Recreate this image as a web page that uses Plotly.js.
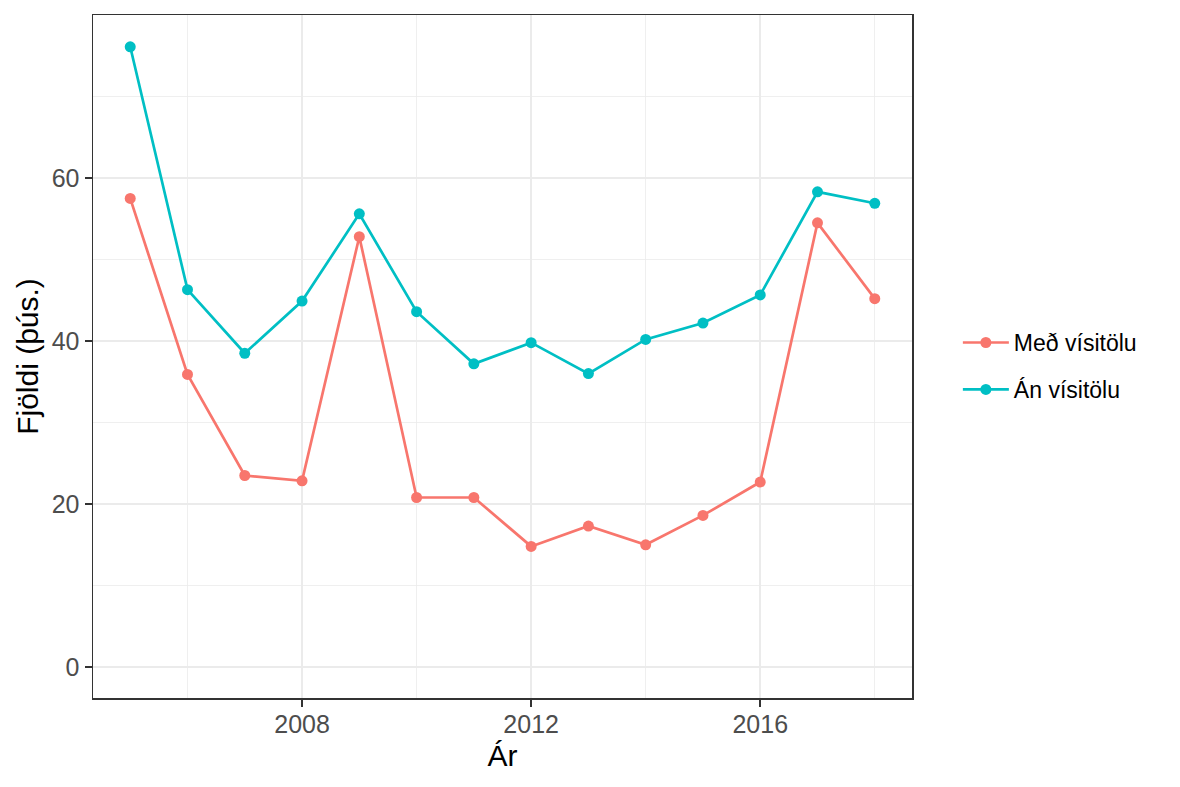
<!DOCTYPE html>
<html>
<head>
<meta charset="utf-8">
<script src="https://cdn.plot.ly/plotly-3.0.1.min.js"></script>
<style>html,body{margin:0;padding:0;background:#fff;}#chart{width:1180px;height:787px;}</style>
</head>
<body>
<div id="chart"></div>
<script>
const years = [2005, 2006, 2007, 2008, 2009, 2010, 2011, 2012, 2013, 2014, 2015, 2016, 2017, 2018];
const medVisitolu = [57.5, 35.9, 23.5, 22.85, 52.8, 20.8, 20.8, 14.8, 17.3, 15.0, 18.6, 22.7, 54.5, 45.2];
const anVisitolu = [76.1, 46.3, 38.5, 44.9, 55.6, 43.6, 37.2, 39.8, 36.0, 40.2, 42.2, 45.65, 58.3, 56.9];
const seriesNames = ["Með vísitölu", "Án vísitölu"];
const seriesColors = ["#F8766D", "#00BFC4"];
const xTickVals = [2008, 2012, 2016];
const yTickVals = [0, 20, 40, 60];
const xTitle = "Ár";
const yTitle = "Fjöldi (þús.)";

const font = "Liberation Sans, Arial, sans-serif";
const traces = [medVisitolu, anVisitolu].map((vals, i) => ({
  type: "scatter",
  mode: "lines+markers",
  x: years,
  y: vals,
  name: seriesNames[i],
  legendgroup: "g" + i,
  line: {color: seriesColors[i], width: 2.7},
  marker: {color: seriesColors[i], size: 11}
}));

const gridCol = "#ebebeb";
const layout = {
  width: 1180,
  height: 787,
  margin: {l: 93, r: 268, t: 15, b: 89},
  paper_bgcolor: "#ffffff",
  plot_bgcolor: "#ffffff",
  font: {family: font, size: 24, color: "#4d4d4d"},
  showlegend: true,
  legend: {
    x: 1.056, xanchor: "left", y: 0.486, yanchor: "middle",
    font: {family: font, size: 23, color: "#000000"},
    traceorder: "grouped", tracegroupgap: 14,
    itemwidth: 46,
    bgcolor: "rgba(0,0,0,0)"
  },
  xaxis: {
    range: [2004.35, 2018.65],
    tickmode: "array", tickvals: xTickVals,
    showgrid: true, gridcolor: gridCol, gridwidth: 1.6,
    minor: {dtick: 2, tick0: 2008, showgrid: true, gridcolor: gridCol, gridwidth: 0.8},
    zeroline: false,
    showline: true, mirror: true, linecolor: "#333333", linewidth: 1.5,
    ticks: "outside", ticklen: 7, tickwidth: 1.5, tickcolor: "#333333",
    ticklabelstandoff: -4,
    tickfont: {family: font, size: 25, color: "#4d4d4d"},
    title: {text: xTitle, font: {family: font, size: 30, color: "#000000"}, standoff: 8}
  },
  yaxis: {
    range: [-3.8, 80.0],
    tickmode: "array", tickvals: yTickVals,
    showgrid: true, gridcolor: gridCol, gridwidth: 1.6,
    minor: {dtick: 10, tick0: 0, showgrid: true, gridcolor: gridCol, gridwidth: 0.8},
    zeroline: false,
    showline: true, mirror: true, linecolor: "#333333", linewidth: 1.5,
    ticks: "outside", ticklen: 7, tickwidth: 1.5, tickcolor: "#333333",
    tickfont: {family: font, size: 25, color: "#4d4d4d"},
    title: {text: yTitle, font: {family: font, size: 30, color: "#000000"}, standoff: 4}
  }
};

Plotly.newPlot("chart", traces, layout, {displayModeBar: false, staticPlot: true});
</script>
</body>
</html>
